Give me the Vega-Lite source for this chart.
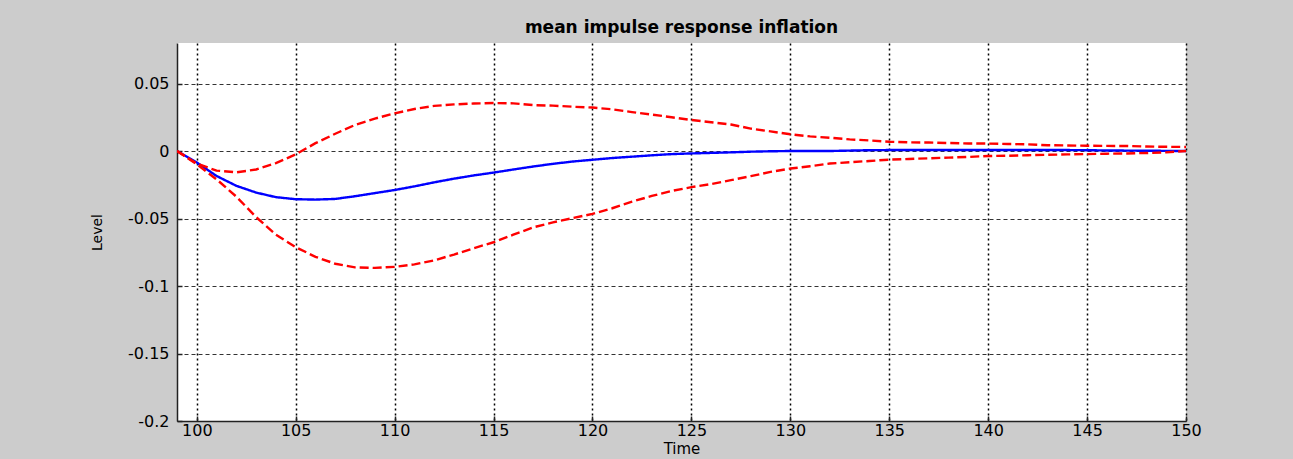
{
  "$schema": "https://vega.github.io/schema/vega-lite/v6.json",
  "width": 1009,
  "height": 378,
  "autosize": "none",
  "padding": {"left": 177, "top": 43, "right": 107, "bottom": 38},
  "background": "#CCCCCC",
  "title": {"text": "mean impulse response inflation", "font": "DejaVu Sans", "fontSize": 17, "fontWeight": "bold", "color": "#000000", "offset": 6, "anchor": "middle"},
  "config": {"view": {"fill": "#FFFFFF", "stroke": null}},
  "data": {"values": [
    {"t":99,"s":"mean","v":0},{"t":100,"s":"mean","v":-0.0085},{"t":101,"s":"mean","v":-0.0185},{"t":102,"s":"mean","v":-0.0258},{"t":103,"s":"mean","v":-0.0308},{"t":104,"s":"mean","v":-0.0342},{"t":105,"s":"mean","v":-0.0357},{"t":106,"s":"mean","v":-0.036},{"t":107,"s":"mean","v":-0.0355},{"t":108,"s":"mean","v":-0.0335},{"t":109,"s":"mean","v":-0.0312},{"t":110,"s":"mean","v":-0.0289},{"t":111,"s":"mean","v":-0.0262},{"t":112,"s":"mean","v":-0.0232},{"t":113,"s":"mean","v":-0.0205},{"t":114,"s":"mean","v":-0.0181},{"t":115,"s":"mean","v":-0.016},{"t":116,"s":"mean","v":-0.0137},{"t":117,"s":"mean","v":-0.0115},{"t":118,"s":"mean","v":-0.0095},{"t":119,"s":"mean","v":-0.0078},{"t":120,"s":"mean","v":-0.0065},{"t":121,"s":"mean","v":-0.0052},{"t":122,"s":"mean","v":-0.0042},{"t":123,"s":"mean","v":-0.0032},{"t":124,"s":"mean","v":-0.0023},{"t":125,"s":"mean","v":-0.0018},{"t":126,"s":"mean","v":-0.0014},{"t":127,"s":"mean","v":-0.001},{"t":128,"s":"mean","v":-0.0005},{"t":129,"s":"mean","v":-0.0002},{"t":130,"s":"mean","v":0},{"t":131,"s":"mean","v":0},{"t":132,"s":"mean","v":0},{"t":133,"s":"mean","v":0.0003},{"t":134,"s":"mean","v":0.0006},{"t":135,"s":"mean","v":0.0007},{"t":136,"s":"mean","v":0.0007},{"t":137,"s":"mean","v":0.0007},{"t":138,"s":"mean","v":0.0007},{"t":139,"s":"mean","v":0.0007},{"t":140,"s":"mean","v":0.0007},{"t":141,"s":"mean","v":0.0007},{"t":142,"s":"mean","v":0.0007},{"t":143,"s":"mean","v":0.0007},{"t":144,"s":"mean","v":0.0007},{"t":145,"s":"mean","v":0.0006},{"t":146,"s":"mean","v":0.0004},{"t":147,"s":"mean","v":0.0003},{"t":148,"s":"mean","v":0.0002},{"t":149,"s":"mean","v":0.0001},{"t":150,"s":"mean","v":0},
    {"t":99,"s":"upper","v":0},{"t":100,"s":"upper","v":-0.0093},{"t":101,"s":"upper","v":-0.0145},{"t":102,"s":"upper","v":-0.0158},{"t":103,"s":"upper","v":-0.0137},{"t":104,"s":"upper","v":-0.009},{"t":105,"s":"upper","v":-0.0025},{"t":106,"s":"upper","v":0.0058},{"t":107,"s":"upper","v":0.0128},{"t":108,"s":"upper","v":0.0193},{"t":109,"s":"upper","v":0.024},{"t":110,"s":"upper","v":0.0279},{"t":111,"s":"upper","v":0.0311},{"t":112,"s":"upper","v":0.0334},{"t":113,"s":"upper","v":0.0345},{"t":114,"s":"upper","v":0.0352},{"t":115,"s":"upper","v":0.0355},{"t":116,"s":"upper","v":0.0353},{"t":117,"s":"upper","v":0.034},{"t":118,"s":"upper","v":0.0336},{"t":119,"s":"upper","v":0.0328},{"t":120,"s":"upper","v":0.0322},{"t":121,"s":"upper","v":0.0309},{"t":122,"s":"upper","v":0.0288},{"t":123,"s":"upper","v":0.027},{"t":124,"s":"upper","v":0.025},{"t":125,"s":"upper","v":0.023},{"t":126,"s":"upper","v":0.0213},{"t":127,"s":"upper","v":0.0196},{"t":128,"s":"upper","v":0.0166},{"t":129,"s":"upper","v":0.0145},{"t":130,"s":"upper","v":0.0124},{"t":131,"s":"upper","v":0.0108},{"t":132,"s":"upper","v":0.0098},{"t":133,"s":"upper","v":0.0086},{"t":134,"s":"upper","v":0.0078},{"t":135,"s":"upper","v":0.0069},{"t":136,"s":"upper","v":0.0064},{"t":137,"s":"upper","v":0.0063},{"t":138,"s":"upper","v":0.0059},{"t":139,"s":"upper","v":0.0056},{"t":140,"s":"upper","v":0.0055},{"t":141,"s":"upper","v":0.0052},{"t":142,"s":"upper","v":0.0049},{"t":143,"s":"upper","v":0.0043},{"t":144,"s":"upper","v":0.0041},{"t":145,"s":"upper","v":0.0039},{"t":146,"s":"upper","v":0.0038},{"t":147,"s":"upper","v":0.0037},{"t":148,"s":"upper","v":0.0033},{"t":149,"s":"upper","v":0.0031},{"t":150,"s":"upper","v":0.003},
    {"t":99,"s":"lower","v":0},{"t":100,"s":"lower","v":-0.0098},{"t":101,"s":"lower","v":-0.021},{"t":102,"s":"lower","v":-0.0338},{"t":103,"s":"lower","v":-0.049},{"t":104,"s":"lower","v":-0.062},{"t":105,"s":"lower","v":-0.0712},{"t":106,"s":"lower","v":-0.0784},{"t":107,"s":"lower","v":-0.0835},{"t":108,"s":"lower","v":-0.0862},{"t":109,"s":"lower","v":-0.0866},{"t":110,"s":"lower","v":-0.0858},{"t":111,"s":"lower","v":-0.084},{"t":112,"s":"lower","v":-0.081},{"t":113,"s":"lower","v":-0.0767},{"t":114,"s":"lower","v":-0.072},{"t":115,"s":"lower","v":-0.0676},{"t":116,"s":"lower","v":-0.062},{"t":117,"s":"lower","v":-0.0566},{"t":118,"s":"lower","v":-0.0529},{"t":119,"s":"lower","v":-0.0497},{"t":120,"s":"lower","v":-0.0466},{"t":121,"s":"lower","v":-0.0424},{"t":122,"s":"lower","v":-0.0375},{"t":123,"s":"lower","v":-0.0333},{"t":124,"s":"lower","v":-0.0296},{"t":125,"s":"lower","v":-0.0268},{"t":126,"s":"lower","v":-0.0245},{"t":127,"s":"lower","v":-0.0216},{"t":128,"s":"lower","v":-0.0186},{"t":129,"s":"lower","v":-0.0155},{"t":130,"s":"lower","v":-0.013},{"t":131,"s":"lower","v":-0.0113},{"t":132,"s":"lower","v":-0.0093},{"t":133,"s":"lower","v":-0.0083},{"t":134,"s":"lower","v":-0.0074},{"t":135,"s":"lower","v":-0.0064},{"t":136,"s":"lower","v":-0.0059},{"t":137,"s":"lower","v":-0.0054},{"t":138,"s":"lower","v":-0.0049},{"t":139,"s":"lower","v":-0.0044},{"t":140,"s":"lower","v":-0.0037},{"t":141,"s":"lower","v":-0.0035},{"t":142,"s":"lower","v":-0.0031},{"t":143,"s":"lower","v":-0.0028},{"t":144,"s":"lower","v":-0.0025},{"t":145,"s":"lower","v":-0.0023},{"t":146,"s":"lower","v":-0.002},{"t":147,"s":"lower","v":-0.0018},{"t":148,"s":"lower","v":-0.0015},{"t":149,"s":"lower","v":-0.001},{"t":150,"s":"lower","v":0}
  ]},
  "mark": {"type": "line", "strokeWidth": 2.4, "clip": true},
  "encoding": {
    "x": {
      "field": "t", "type": "quantitative",
      "scale": {"domain": [99, 150], "nice": false, "zero": false},
      "axis": {
        "values": [100, 105, 110, 115, 120, 125, 130, 135, 140, 145, 150],
        "title": "Time",
        "grid": true, "gridColor": "#000000", "gridDash": [2, 3], "gridWidth": 1.5, "gridOpacity": 1,
        "domainColor": "#222222", "domainWidth": 1.5,
        "ticks": true, "tickColor": "#222222", "tickSize": -5, "tickWidth": 1.5,
        "labelFont": "DejaVu Sans", "labelFontSize": 16, "labelColor": "#000000", "labelPadding": 6, "labelFlush": false,
        "titleFont": "DejaVu Sans", "titleFontSize": 15, "titleFontWeight": "normal", "titleColor": "#000000", "titlePadding": 3
      }
    },
    "y": {
      "field": "v", "type": "quantitative",
      "scale": {"domain": [-0.2, 0.08], "nice": false, "zero": false},
      "axis": {
        "values": [-0.2, -0.15, -0.1, -0.05, 0, 0.05],
        "labelExpr": "datum.value == 0 ? '0' : (datum.value < 0 ? '-' : '') + format(abs(datum.value), '')",
        "title": "Level",
        "grid": true, "gridColor": "#333333", "gridDash": [4, 3], "gridWidth": 1, "gridOpacity": 1,
        "domainColor": "#222222", "domainWidth": 1.5,
        "ticks": true, "tickColor": "#222222", "tickSize": -5, "tickWidth": 1.5,
        "labelFont": "DejaVu Sans", "labelFontSize": 16, "labelColor": "#000000", "labelPadding": 13, "labelFlush": false,
        "titleFont": "DejaVu Sans", "titleFontSize": 14, "titleFontWeight": "normal", "titleColor": "#000000", "titlePadding": 23
      }
    },
    "color": {"field": "s", "type": "nominal", "scale": {"domain": ["mean", "upper", "lower"], "range": ["#0000FF", "#FF0000", "#FF0000"]}, "legend": null},
    "strokeDash": {"field": "s", "type": "nominal", "scale": {"domain": ["mean", "upper", "lower"], "range": [[1, 0], [9, 4], [9, 4]]}, "legend": null}
  }
}
